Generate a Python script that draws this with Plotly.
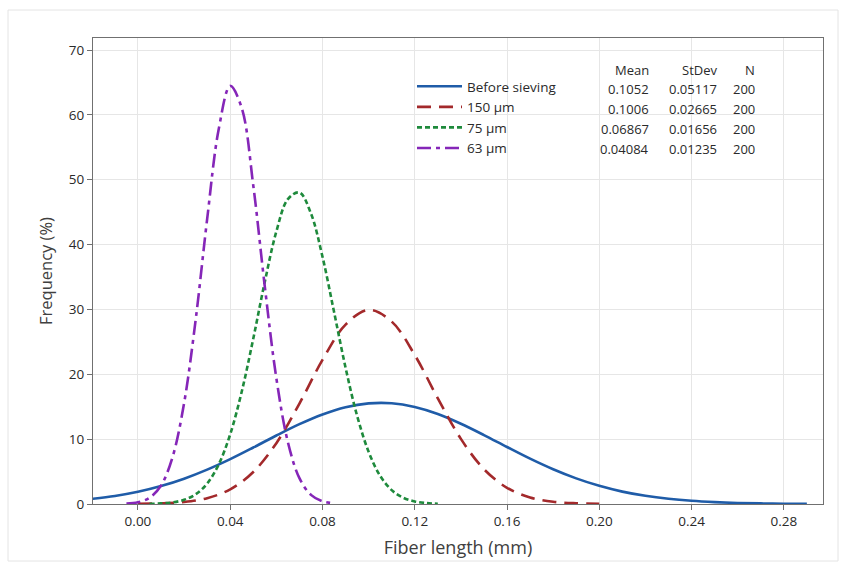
import plotly.graph_objects as go

# ---- data ----
series_names = ["Before sieving", "150 µm", "75 µm", "63 µm"]
means = ["0.1052", "0.1006", "0.06867", "0.04084"]
stdevs = ["0.05117", "0.02665", "0.01656", "0.01235"]
n_values = ["200", "200", "200", "200"]

x_before = [-0.02, -0.01, 0.00, 0.01, 0.02, 0.03, 0.04, 0.05, 0.06, 0.07, 0.08, 0.09, 0.10,
            0.11, 0.12, 0.13, 0.14, 0.15, 0.16, 0.17, 0.18, 0.19, 0.20, 0.21, 0.22, 0.23,
            0.24, 0.25, 0.26, 0.27, 0.28, 0.29]
y_before = [0.78, 1.24, 1.88, 2.76, 3.90, 5.30, 6.92, 8.71, 10.56, 12.31, 13.81, 14.92, 15.51,
            15.53, 14.95, 13.87, 12.37, 10.63, 8.79, 6.99, 5.36, 3.95, 2.80, 1.91, 1.26, 0.80,
            0.49, 0.29, 0.16, 0.09, 0.05, 0.02]

x_150 = [0.00, 0.01, 0.02, 0.03, 0.04, 0.05, 0.06, 0.07, 0.08, 0.09, 0.10, 0.11, 0.12, 0.13,
         0.14, 0.15, 0.16, 0.17, 0.18, 0.19, 0.20]
y_150 = [0.02, 0.09, 0.31, 0.90, 2.26, 4.94, 9.38, 15.49, 22.21, 27.66, 29.93, 28.13, 22.97,
         16.29, 10.04, 5.37, 2.50, 1.01, 0.35, 0.11, 0.03]

x_75 = [0.005, 0.010, 0.015, 0.020, 0.025, 0.030, 0.035, 0.040, 0.045, 0.050, 0.055, 0.060,
        0.065, 0.070, 0.075, 0.080, 0.085, 0.090, 0.095, 0.100, 0.105, 0.110, 0.115, 0.120,
        0.125, 0.130]
y_75 = [0.03, 0.09, 0.25, 0.64, 1.49, 3.15, 6.10, 10.76, 17.35, 25.52, 34.27, 42.01,
        47.01, 48.03, 44.79, 38.13, 29.63, 21.02, 13.61, 8.05, 4.34, 2.14, 0.96, 0.40,
        0.15, 0.05]

x_63 = [-0.005, 0.000, 0.005, 0.010, 0.015, 0.020, 0.025, 0.030, 0.035, 0.040, 0.045, 0.050,
        0.055, 0.060, 0.065, 0.070, 0.075, 0.080, 0.085]
y_63 = [0.07, 0.27, 0.96, 2.86, 7.24, 15.56, 28.38, 43.95, 57.77, 64.46, 61.04, 49.07,
        33.48, 19.39, 9.53, 3.98, 1.41, 0.42, 0.11]

x_ticks = [0.00, 0.04, 0.08, 0.12, 0.16, 0.20, 0.24, 0.28]
y_ticks = [0, 10, 20, 30, 40, 50, 60, 70]

# ---- styles ----
colors = ["#1f5ca8", "#a3292b", "#1e8a3c", "#8526b8"]
dashes = ["solid", "14px,8px", "5px,3px", "14px,5px,4px,5px"]
FONT = "Open Sans, Noto Sans, sans-serif"

fig = go.Figure()
for name, xs, ys, c, d in zip(series_names,
                              [x_before, x_150, x_75, x_63],
                              [y_before, y_150, y_75, y_63],
                              colors, dashes):
    fig.add_trace(go.Scatter(x=xs, y=ys, mode="lines", name=name,
                             line=dict(color=c, width=2.6, dash=d, shape="spline", smoothing=1.0)))

# plot-area geometry in pixels
L, R, T, B = 93, 823, 38, 504
def px(x):
    return (x - L) / (R - L)
def py(y):
    return (B - y) / (B - T)

# white box behind legend + table (hides the grid)
fig.add_shape(type="rect", xref="paper", yref="paper",
              x0=px(412), x1=px(800), y0=py(162), y1=py(62),
              fillcolor="white", line=dict(width=0), layer="between")

# stats table
col_x = [px(651), px(719), px(757)]
headers = ["Mean", "StDev", "N"]
row_y = [py(70), py(89), py(109), py(129), py(149)]
for cx, h in zip(col_x, headers):
    fig.add_annotation(x=cx, y=row_y[0], xref="paper", yref="paper", text=h, showarrow=False,
                       xanchor="right", yanchor="middle", font=dict(size=13, color="#2a2a2a", family=FONT))
for i in range(len(series_names)):
    for cx, val in zip(col_x, [means[i], stdevs[i], n_values[i]]):
        fig.add_annotation(x=cx, y=row_y[i + 1], xref="paper", yref="paper", text=val, showarrow=False,
                           xanchor="right", yanchor="middle", font=dict(size=13, color="#2a2a2a", family=FONT))

# outer light frame
fig.add_shape(type="rect", xref="paper", yref="paper",
              x0=px(8), x1=px(838), y0=py(561), y1=py(10),
              line=dict(color="#e4e4e4", width=1), fillcolor="rgba(0,0,0,0)", layer="below")

fig.update_layout(
    width=842, height=566,
    margin=dict(l=L, r=842 - R, t=T, b=566 - B),
    paper_bgcolor="white", plot_bgcolor="white",
    font=dict(family=FONT, size=12, color="#2a2a2a"),
    showlegend=True,
    legend=dict(x=px(412), y=py(71), xanchor="left", yanchor="top",
                bgcolor="rgba(0,0,0,0)", font=dict(size=13.5, color="#2a2a2a", family=FONT),
                itemwidth=45, tracegroupgap=0),
    xaxis=dict(range=[-0.0195, 0.297], tickvals=x_ticks, tickformat=".2f",
               showgrid=True, gridcolor="#e6e6e6", gridwidth=1,
               showline=True, linecolor="#707070", linewidth=1, mirror=True,
               ticks="outside", ticklen=5, tickcolor="#707070",
               tickfont=dict(size=13.5, color="#2a2a2a"), zeroline=False,
               title=dict(text="Fiber length (mm)", font=dict(size=18, color="#404040"), standoff=12)),
    yaxis=dict(range=[0, 71.85], tickvals=y_ticks,
               showgrid=True, gridcolor="#e6e6e6", gridwidth=1,
               showline=True, linecolor="#707070", linewidth=1, mirror=True,
               ticks="outside", ticklen=5, tickcolor="#707070",
               tickfont=dict(size=13.5, color="#2a2a2a"), zeroline=False,
               title=dict(text="Frequency (%)", font=dict(size=16.5, color="#404040"), standoff=12)),
)

fig.write_html("out.html", config={"displayModeBar": False},
               post_script="document.body.style.margin='0';document.body.style.padding='0';")
